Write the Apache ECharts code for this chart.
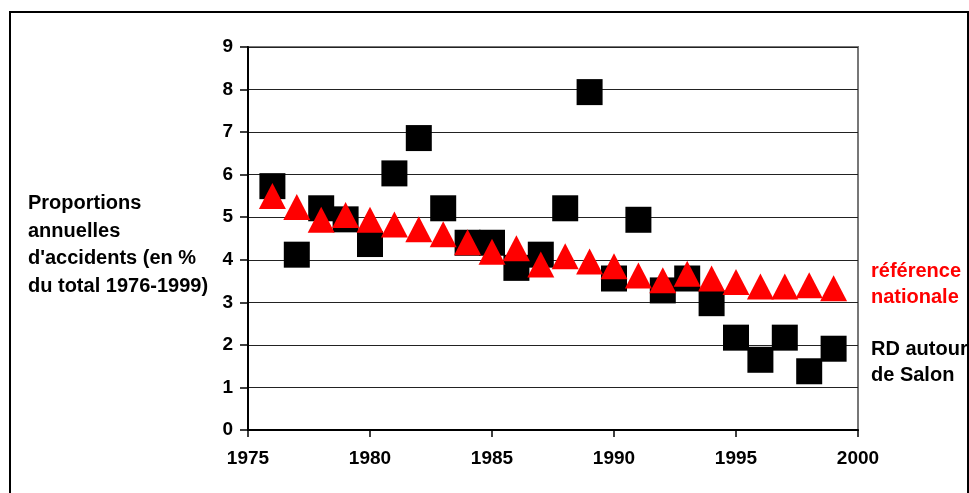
<!DOCTYPE html>
<html>
<head>
<meta charset="utf-8">
<script src="https://cdn.jsdelivr.net/npm/echarts@6/dist/echarts.min.js"></script>
<style>
html,body{margin:0;padding:0;background:#fff;}
#c{width:969px;height:493px;}
</style>
</head>
<body>
<div id="c"></div>
<script>
var years = [1976,1977,1978,1979,1980,1981,1982,1983,1984,1985,1986,1987,1988,1989,1990,1991,1992,1993,1994,1995,1996,1997,1998,1999];
var rdSalon = [5.73,4.12,5.21,4.95,4.37,6.03,6.86,5.21,4.40,4.40,3.81,4.12,5.21,7.94,3.56,4.94,3.28,3.56,2.98,2.17,1.65,2.17,1.38,1.91];
var referenceNationale = [5.50,5.24,4.94,5.05,4.94,4.83,4.72,4.60,4.41,4.19,4.27,3.89,4.08,3.96,3.85,3.63,3.52,3.67,3.56,3.48,3.37,3.37,3.40,3.33];
var yTitleLines = ["Proportions","annuelles","d'accidents (en %","du total 1976-1999)"];
var seriesLabels = {ref:["référence","nationale"], rd:["RD autour","de Salon"]};

function pairs(xs, ys){ return xs.map(function(x,i){ return [x, ys[i]]; }); }

var chart = echarts.init(document.getElementById('c'), null, {renderer:'canvas'});
var FONT = '"Liberation Sans", Arial, sans-serif';
var option = {
  animation:false,
  backgroundColor:'#fff',
  textStyle:{fontFamily:FONT},
  grid:{left:248, right:111, top:47, bottom:63, show:true, borderColor:'#777', borderWidth:2, backgroundColor:'#fff'},
  xAxis:{
    type:'value', min:1975, max:2000, interval:5,
    axisLine:{show:true, onZero:false, lineStyle:{color:'#000', width:2}},
    axisTick:{show:true, length:7, lineStyle:{color:'#000', width:1.5}},
    axisLabel:{fontFamily:FONT, fontSize:19, fontWeight:'bold', color:'#000', margin:19,
      formatter:function(v){ return String(v); }},
    splitLine:{show:false}
  },
  yAxis:{
    type:'value', min:0, max:9, interval:1,
    axisLine:{show:true, lineStyle:{color:'#000', width:2}},
    axisTick:{show:true, length:8, lineStyle:{color:'#000', width:1.5}},
    axisLabel:{fontFamily:FONT, fontSize:19, fontWeight:'bold', color:'#000', margin:15},
    splitLine:{show:true, lineStyle:{color:'#222', width:1.2}}
  },
  graphic:[
    {type:'rect', shape:{x:10, y:12, width:958, height:500}, style:{fill:'none', stroke:'#000', lineWidth:2}, z:-1},
    {type:'text', left:28, top:190, style:{text:yTitleLines.join('\n'), font:'bold 20px '+FONT, fill:'#000', lineHeight:27.5}},
    {type:'text', left:871, top:258, style:{text:seriesLabels.ref.join('\n'), font:'bold 20px '+FONT, fill:'#ff0000', lineHeight:26.5}},
    {type:'text', left:871, top:336, style:{text:seriesLabels.rd.join('\n'), font:'bold 20px '+FONT, fill:'#000', lineHeight:26.5}}
  ],
  series:[
    {name:'RD autour de Salon', type:'scatter', data:pairs(years, rdSalon), symbol:'rect', symbolSize:26,
     itemStyle:{color:'#000', opacity:1}, emphasis:{disabled:true}, z:3},
    {name:'référence nationale', type:'scatter', data:pairs(years, referenceNationale), symbol:'path://M13,0L26,26L0,26Z', symbolSize:[27,26],
     itemStyle:{color:'#ff0000', opacity:1}, emphasis:{disabled:true}, z:4}
  ]
};
chart.setOption(option);
</script>
</body>
</html>
